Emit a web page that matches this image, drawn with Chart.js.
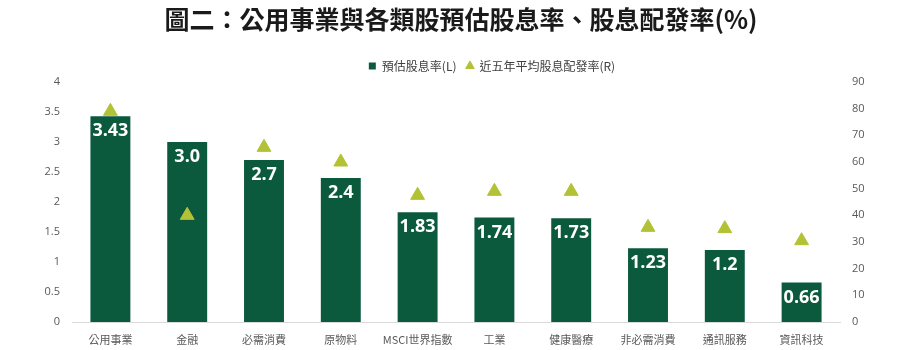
<!DOCTYPE html>
<html>
<head>
<meta charset="utf-8">
<script src="https://cdn.jsdelivr.net/npm/chart.js@4"></script>
<style>
    html, body { margin: 0; padding: 0; background: #ffffff; }
    #wrap { width: 922px; height: 350px; }
</style>
</head>
<body>
<div id="wrap"><canvas id="grafico"></canvas></div>
<script>
    // Dados do gráfico
    const categorias = ["公用事業", "金融", "必需消費", "原物料", "MSCI世界指數", "工業", "健康醫療", "非必需消費", "通訊服務", "資訊科技"];
    const dividendoEstimado = [3.43, 3.0, 2.7, 2.4, 1.83, 1.74, 1.73, 1.23, 1.2, 0.66];
    const payoutMedio = [79, 40, 65.5, 60, 47.5, 49, 49, 35.5, 35, 30.5];
    const ticksEsquerda = [0, 0.5, 1, 1.5, 2, 2.5, 3, 3.5, 4];
    const ticksDireita = [0, 10, 20, 30, 40, 50, 60, 70, 80, 90];

    const corBarra = "#0b5a3e";
    const corTriangulo = "#b3c235";
    const fonteCJK = "'Noto Sans CJK TC', 'Noto Sans', sans-serif";
    const fonteNum = "'Open Sans', 'Noto Sans', sans-serif";

    function formatarValor(v) {
        return Number.isInteger(v) ? v.toFixed(1) : String(v);
    }

    // Rótulos brancos dentro das barras
    const rotulosBarras = {
        id: "rotulosBarras",
        afterDatasetsDraw(chart) {
            const ctx = chart.ctx;
            const meta = chart.getDatasetMeta(1);
            ctx.save();
            ctx.fillStyle = "#ffffff";
            ctx.font = "bold 18px " + fonteNum;
            ctx.textAlign = "center";
            ctx.textBaseline = "middle";
            meta.data.forEach((barra, i) => {
                ctx.fillText(formatarValor(dividendoEstimado[i]), barra.x, barra.y + 15);
            });
            ctx.restore();
        }
    };

    // Desloca a legenda um pouco para a direita
    const moverLegenda = {
        id: "moverLegenda",
        afterLayout(chart) {
            if (chart.legend) {
                chart.legend.left += 31;
                chart.legend.right += 31;
            }
        }
    };

    const ctx = document.getElementById("grafico").getContext("2d");
    new Chart(ctx, {
        data: {
            labels: categorias,
            datasets: [
                {
                    type: "line",
                    label: "近五年平均股息配發率(R)",
                    data: payoutMedio,
                    yAxisID: "yR",
                    showLine: false,
                    pointStyle: "triangle",
                    pointRadius: 8,
                    pointHoverRadius: 8,
                    pointBackgroundColor: corTriangulo,
                    pointBorderColor: corTriangulo,
                    backgroundColor: corTriangulo,
                    borderColor: corTriangulo,
                    order: 0
                },
                {
                    type: "bar",
                    label: "預估股息率(L)",
                    data: dividendoEstimado,
                    yAxisID: "yL",
                    backgroundColor: corBarra,
                    borderColor: corBarra,
                    pointStyle: "rect",
                    categoryPercentage: 1,
                    barPercentage: 0.52,
                    order: 1
                }
            ]
        },
        options: {
            responsive: true,
            maintainAspectRatio: false,
            animation: false,
            layout: { padding: { left: 0, right: 0, top: 0, bottom: 0 } },
            plugins: {
                title: {
                    display: true,
                    text: "圖二：公用事業與各類股預估股息率、股息配發率(%)",
                    color: "#1a1a1a",
                    font: { family: fonteCJK, size: 25, weight: "bold" },
                    padding: { top: 4, bottom: 16 }
                },
                legend: {
                    display: true,
                    reverse: true,
                    labels: {
                        usePointStyle: true,
                        boxWidth: 7,
                        boxHeight: 7,
                        padding: 10,
                        color: "#404040",
                        font: { family: fonteCJK, size: 12 }
                    }
                },
                tooltip: { enabled: false }
            },
            scales: {
                x: {
                    grid: { display: false, drawTicks: false },
                    border: { display: true, color: "#d9d9d9", width: 1 },
                    ticks: {
                        color: "#595959",
                        padding: 11,
                        maxRotation: 0,
                        autoSkip: false,
                        font: { family: fonteCJK, size: 11 }
                    },
                    afterFit(scale) { scale.height = 28; }
                },
                yL: {
                    position: "left",
                    min: 0,
                    max: 4,
                    afterBuildTicks(scale) { scale.ticks = ticksEsquerda.map(v => ({ value: v })); },
                    grid: { display: false, drawTicks: false },
                    border: { display: false },
                    ticks: {
                        color: "#595959",
                        padding: 12,
                        font: { family: fonteNum, size: 11 },
                        callback: v => String(v)
                    },
                    afterFit(scale) { scale.width = 72; }
                },
                yR: {
                    position: "right",
                    min: 0,
                    max: 90,
                    afterBuildTicks(scale) { scale.ticks = ticksDireita.map(v => ({ value: v })); },
                    grid: { display: false, drawTicks: false },
                    border: { display: false },
                    ticks: {
                        color: "#595959",
                        padding: 12,
                        font: { family: fonteNum, size: 11 },
                        callback: v => String(v)
                    },
                    afterFit(scale) { scale.width = 82; }
                }
            }
        },
        plugins: [rotulosBarras, moverLegenda]
    });
</script>
</body>
</html>
